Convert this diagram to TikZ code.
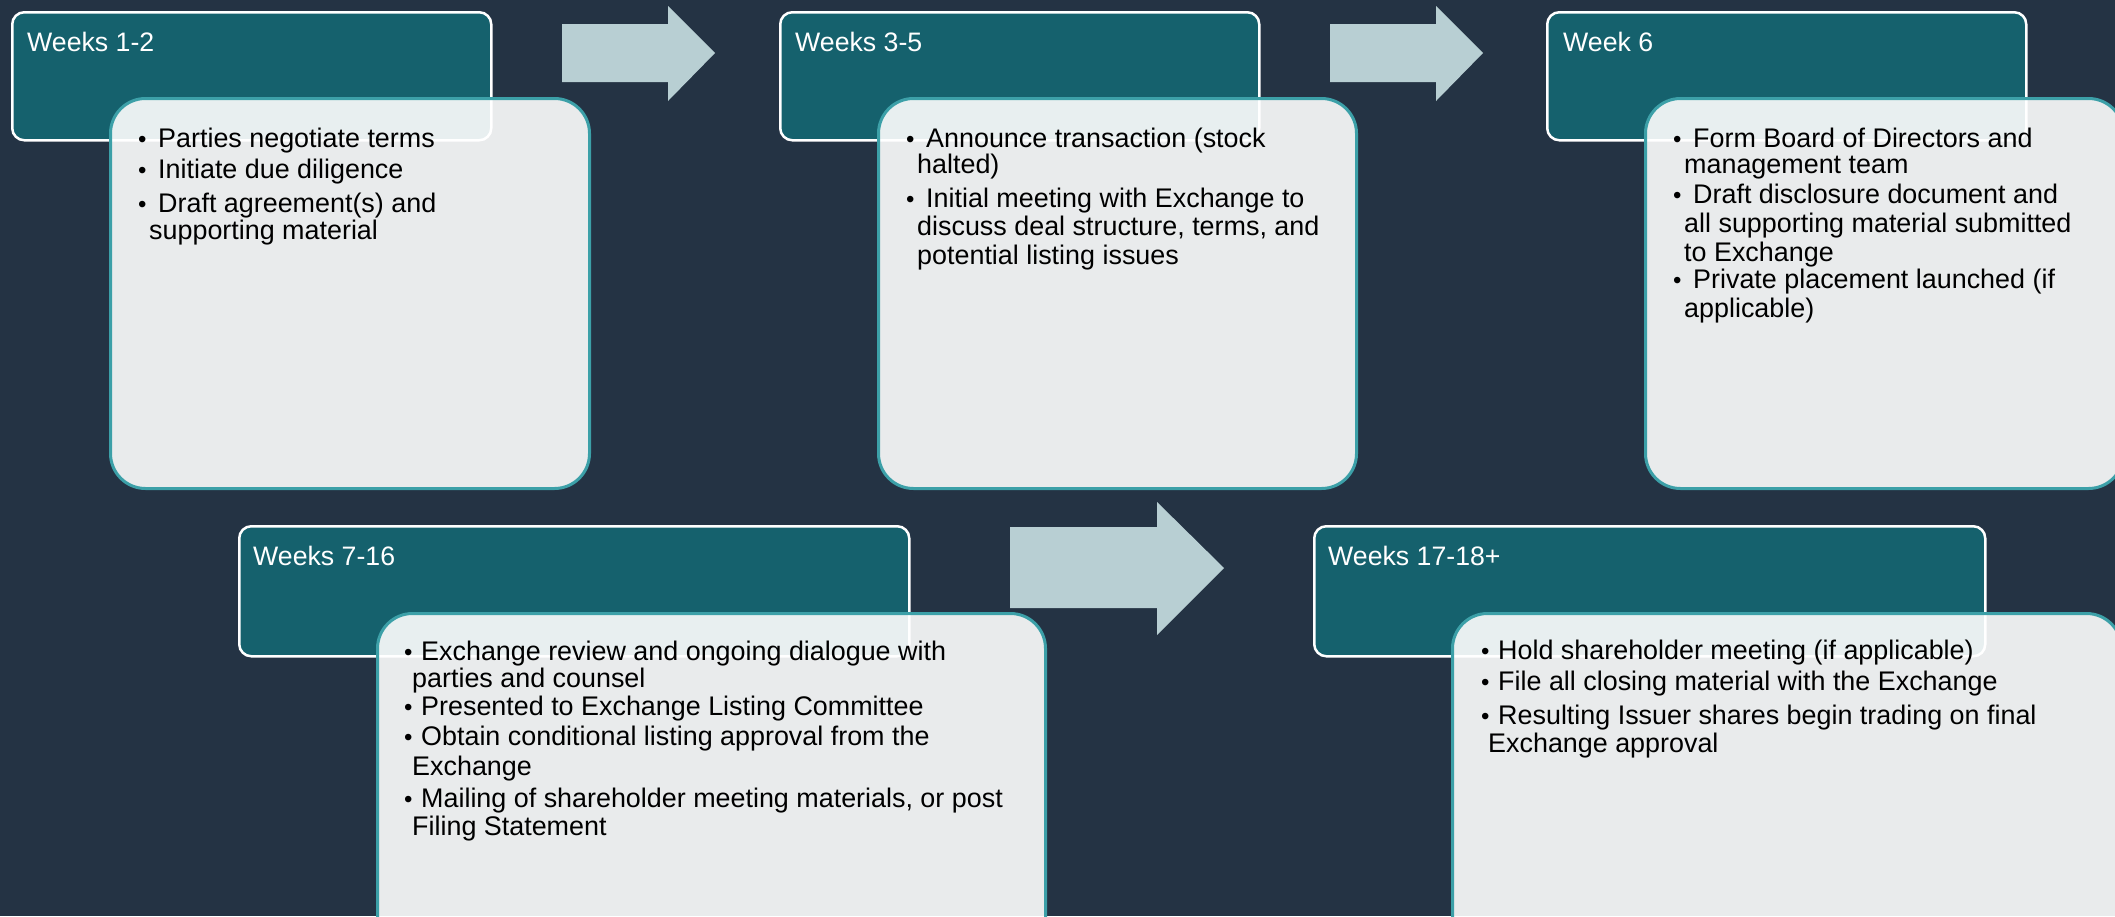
\documentclass[tikz,border=0pt]{standalone}
\usepackage{fontspec}
\setmainfont{Liberation Sans}
\definecolor{bgnavy}{HTML}{243344}
\definecolor{hdrteal}{HTML}{15616D}
\definecolor{cntborder}{HTML}{3CA0A8}
\definecolor{arrowc}{HTML}{B8CFD3}
\newcommand\blt[4]{%
  \node[bul] (#1-#2-b) at ([shift={(\bx,#3)}]#1.north west) {•};
  \node[ln] (#1-#2) at ([shift={(\tx,#3)}]#1.north west) {#4};}
\newcommand\cnt[4]{%
  \node[ln] (#1-#2) at ([shift={(\cx,#3)}]#1.north west) {#4};}
\begin{document}
\begin{tikzpicture}[x=1pt,y=-1pt,
  hdr/.style={draw=white, line width=2.5pt, fill=hdrteal, rounded corners=12pt, anchor=north west, inner sep=0pt},
  cbox/.style={draw=cntborder, line width=3pt, fill=white, fill opacity=0.9, draw opacity=1, rounded corners=35pt, anchor=north west, inner sep=0pt, minimum height=390pt},
  ttl/.style={text=white, font=\fontsize{26.7}{30}\selectfont, anchor=base west, inner sep=0pt},
  ln/.style={text=black, font=\fontsize{26.9}{30}\selectfont, anchor=base west, inner sep=0pt},
  bul/.style={text=black, font=\fontsize{24}{30}\selectfont, anchor=base west, inner sep=0pt},
  blockarrow/.style={fill=arrowc}]
\useasboundingbox (0,0) rectangle (2115,916);
\fill[bgnavy] (0,0) rectangle (2115,916);
% arrows
\fill[blockarrow] (562,24) -- (668,24) -- (668,6) -- (715,53) -- (668,101) -- (668,82) -- (562,82) -- cycle;
\fill[blockarrow] (1330,24) -- (1436,24) -- (1436,6) -- (1483,53) -- (1436,101) -- (1436,82) -- (1330,82) -- cycle;
\fill[blockarrow] (1010,527) -- (1157,527) -- (1157,502) -- (1224,568) -- (1157,635) -- (1157,608) -- (1010,608) -- cycle;
% row 1
\node[hdr, minimum width=479pt, minimum height=128pt] (h1) at (11,11) {};
\node[ttl] (h1t) at ([shift={(16,40)}]h1.north west) {Weeks 1-2};
\node[cbox, minimum width=479pt] (c1) at (109,97) {};
\node[hdr, minimum width=479pt, minimum height=128pt] (h2) at (779,11) {};
\node[ttl] (h2t) at ([shift={(16,40)}]h2.north west) {Weeks 3-5};
\node[cbox, minimum width=478pt] (c2) at (877,97) {};
\node[hdr, minimum width=479pt, minimum height=128pt] (h3) at (1546,11) {};
\node[ttl] (h3t) at ([shift={(17,40)}]h3.north west) {Week 6};
\node[cbox, minimum width=478pt] (c3) at (1644,97) {};
% row 2
\node[hdr, minimum width=670pt, minimum height=130pt] (h4) at (238,525) {};
\node[ttl] (h4t) at ([shift={(15,40)}]h4.north west) {Weeks 7-16};
\node[cbox, minimum width=668pt] (c4) at (376,612) {};
\node[hdr, minimum width=671pt, minimum height=130pt] (h5) at (1313,525) {};
\node[ttl] (h5t) at ([shift={(15,40)}]h5.north west) {Weeks 17-18+};
\node[cbox, minimum width=669pt] (c5) at (1451,612) {};
% texts row 1
\def\bx{29}\def\tx{49}\def\cx{40}
\blt{c1}{1}{50}{Parties negotiate terms}
\blt{c1}{2}{81}{Initiate due diligence}
\blt{c1}{3}{115}{Draft agreement(s) and}
\cnt{c1}{4}{142}{supporting material}
\blt{c2}{1}{50}{Announce transaction (stock}
\cnt{c2}{2}{76}{halted)}
\blt{c2}{3}{110}{Initial meeting with Exchange to}
\cnt{c2}{4}{138}{discuss deal structure, terms, and}
\cnt{c2}{5}{167}{potential listing issues}
\blt{c3}{1}{50}{Form Board of Directors and}
\cnt{c3}{2}{76}{management team}
\blt{c3}{3}{106}{Draft disclosure document and}
\cnt{c3}{4}{135}{all supporting material submitted}
\cnt{c3}{5}{164}{to Exchange}
\blt{c3}{6}{191}{Private placement launched (if}
\cnt{c3}{7}{220}{applicable)}
% texts row 2
\def\bx{28}\def\tx{45}\def\cx{36}
\blt{c4}{1}{48}{Exchange review and ongoing dialogue with}
\cnt{c4}{2}{75}{parties and counsel}
\blt{c4}{3}{103}{Presented to Exchange Listing Committee}
\blt{c4}{4}{133}{Obtain conditional listing approval from the}
\cnt{c4}{5}{163}{Exchange}
\blt{c4}{6}{195}{Mailing of shareholder meeting materials, or post}
\cnt{c4}{7}{223}{Filing Statement}
\def\bx{30}\def\tx{47}\def\cx{37}
\blt{c5}{1}{47}{Hold shareholder meeting (if applicable)}
\blt{c5}{2}{78}{File all closing material with the Exchange}
\blt{c5}{3}{112}{Resulting Issuer shares begin trading on final}
\cnt{c5}{4}{140}{Exchange approval}
\end{tikzpicture}
\end{document}
